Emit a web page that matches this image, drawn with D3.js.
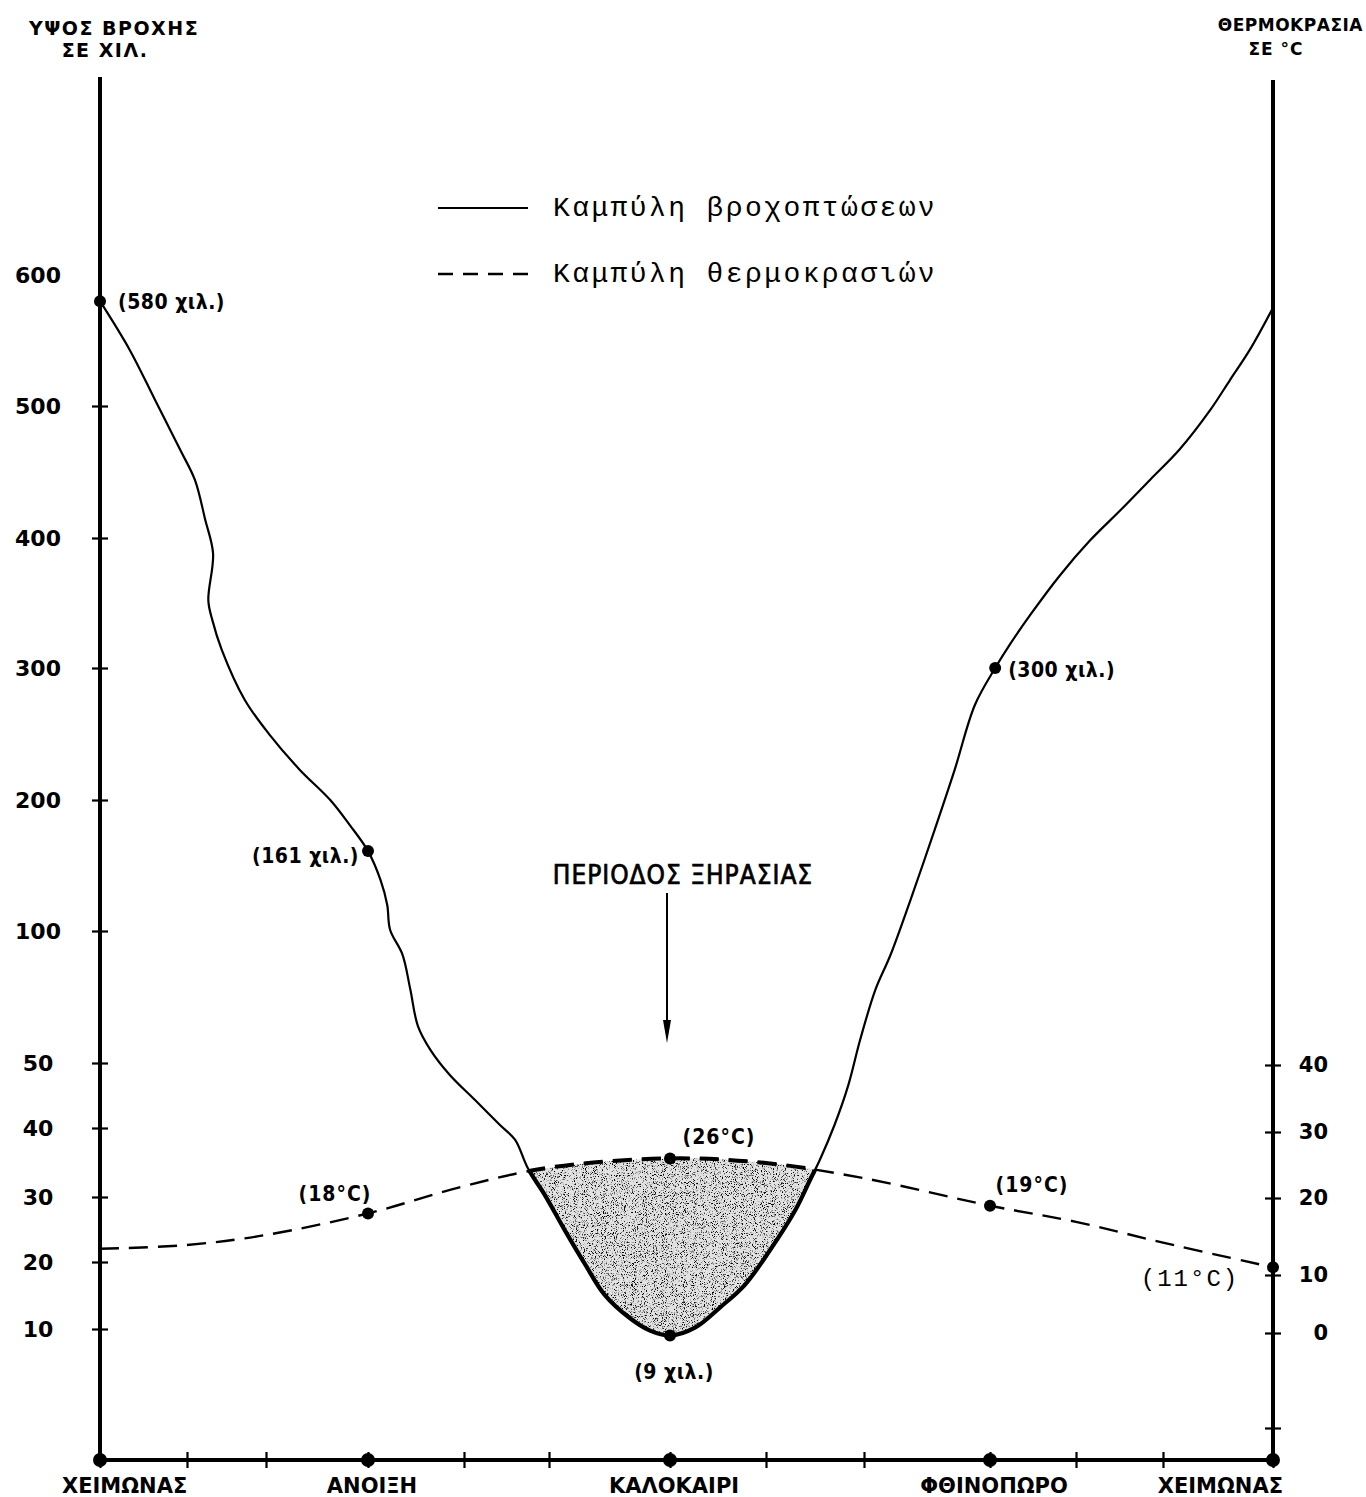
<!DOCTYPE html>
<html lang="el">
<head>
<meta charset="utf-8">
<script src="https://cdn.jsdelivr.net/npm/d3@7"></script>
<style>
body { margin:0; background:#fff; }
svg { display:block; background:#fff; }
.bold { font-family:"DejaVu Sans", sans-serif; font-weight:bold; }
.cond { font-family:"DejaVu Sans Condensed", "DejaVu Sans", sans-serif; font-weight:bold; }
.mono { font-family:"Liberation Mono", "DejaVu Sans Mono", monospace; }
path.rain { fill:none; stroke:#000; stroke-width:2.2; }
path.temp { fill:none; stroke:#000; stroke-width:2.4; stroke-dasharray:19,10; }
</style>
</head>
<body>
<svg id="chart"></svg>
<script>
var W = 1366, H = 1497;

// --- data ---
var monthTicks = d3.range(0, 13);
var seasonNames = ["ΧΕΙΜΩΝΑΣ", "ΑΝΟΙΞΗ", "ΚΑΛΟΚΑΙΡΙ", "ΦΘΙΝΟΠΩΡΟ", "ΧΕΙΜΩΝΑΣ"];
var seasonMonths = [0, 3, 6, 9, 12];
var rainTicks = [10, 20, 30, 40, 50, 100, 200, 300, 400, 500, 600];
var tempTicks = [-10, 0, 10, 20, 30, 40];

// rain curve (month, mm)
var rainMonth = [0, 0.34, 0.63, 0.92, 1.10, 1.23, 1.33, 1.27, 1.32, 1.44, 1.73, 2.04, 2.33, 2.63, 2.82, 3,
  3.13, 3.20, 3.23, 3.36, 3.44, 3.52, 3.65, 3.85, 4.13, 4.42, 4.60, 4.75, 4.95, 5.13, 5.30, 5.46, 5.67, 5.83, 6,
  6.26, 6.52, 6.78, 7.04, 7.30, 7.45, 7.55, 7.70, 7.84, 7.96, 8.09, 8.21, 8.37, 8.56, 8.72, 8.88, 9.06,
  9.23, 9.47, 9.81, 10.16, 10.51, 10.85, 11.15, 11.43, 11.61, 11.79, 12];
var rainMm = [580, 543, 505, 467, 444, 414, 388, 352, 337, 314, 276, 249, 223, 200, 181, 161,
  139, 120, 101, 91, 78, 64, 55, 48.2, 44.3, 40.5, 38.3, 34.2, 30.3, 24.9, 19.6, 15.1, 11.6, 9.8, 9,
  10.2, 13.2, 16.6, 21.8, 28, 32.5, 35.4, 40.5, 46.6, 58.7, 77.7, 90.9, 124, 177, 223, 272, 300,
  318, 341, 371, 398, 421, 444, 467, 497, 520, 543, 575];

// temperature curve, one value per month
var tempMonth = d3.range(0, 13);
var tempC = [13.4, 13.9, 15.2, 18, 21.8, 24.6, 26, 25.3, 23, 19, 16.9, 14.2, 11];

var rainNoteMonth = [0, 3, 6, 9.06];
var rainNoteText = ["(580 χιλ.)", "(161 χιλ.)", "(9 χιλ.)", "(300 χιλ.)"];
var tempNoteMonth = [3, 6, 9, 12];
var tempNoteText = ["(18°C)", "(26°C)", "(19°C)", "(11°C)"];

// --- layout ---
var x = d3.scaleLinear().domain(monthTicks)
  .range([100, 187, 266, 368, 464, 549, 670, 766, 864, 990, 1076, 1163, 1273]);
var yRain = d3.scaleLinear().domain([0].concat(rainTicks))
  .range([1395, 1329, 1262, 1197, 1128, 1063, 931, 800, 668, 538, 406, 275]);
var yTemp = d3.scaleLinear().domain(tempTicks)
  .range([1428, 1333, 1275, 1198, 1132, 1065]);
var base = 1460;

var svg = d3.select('#chart').attr('width', W).attr('height', H);
var defs = svg.append('defs');

var rainPts = rainMonth.map(function(m, i){ return [x(m), yRain(rainMm[i])]; });
var tempPts = tempMonth.map(function(m, i){ return [x(m), yTemp(tempC[i])]; });

var curve = d3.curveCatmullRom.alpha(0.5);
var line = d3.line().curve(curve);
var belowTemp = d3.area().curve(curve).x(function(d){return d[0];}).y0(function(d){return d[1];}).y1(base);
var aboveRain = d3.area().curve(curve).x(function(d){return d[0];}).y0(0).y1(function(d){return d[1];});

defs.append('clipPath').attr('id', 'clipTemp').append('path').attr('d', belowTemp(tempPts));
defs.append('clipPath').attr('id', 'clipRain').append('path').attr('d', aboveRain(rainPts));

var f = defs.append('filter').attr('id', 'speckle').attr('color-interpolation-filters', 'sRGB');
f.append('feTurbulence').attr('type', 'fractalNoise').attr('baseFrequency', 1.1)
  .attr('numOctaves', 2).attr('seed', 4).attr('result', 'noise');
f.append('feColorMatrix').attr('in', 'noise').attr('type', 'matrix')
  .attr('values', '0 0 0 0 0  0 0 0 0 0  0 0 0 0 0  6 0 0 0 -3.3').attr('result', 'dots');
f.append('feComposite').attr('in', 'dots').attr('in2', 'SourceGraphic').attr('operator', 'in');

// dry period shading: below the temperature curve and above the rain curve
var shade = svg.append('g').attr('clip-path', 'url(#clipTemp)');
shade.append('path').attr('d', aboveRain(rainPts)).attr('fill', '#e2e2e2');
shade.append('path').attr('d', aboveRain(rainPts)).attr('fill', '#000').attr('filter', 'url(#speckle)');

// curves
svg.append('path').attr('class', 'rain').attr('d', line(rainPts));
svg.append('path').attr('class', 'rain').attr('d', line(rainPts))
  .attr('clip-path', 'url(#clipTemp)').style('stroke-width', 4.2);
svg.append('path').attr('class', 'temp').attr('d', line(tempPts));
svg.append('path').attr('class', 'temp').attr('d', line(tempPts))
  .attr('clip-path', 'url(#clipRain)').style('stroke-width', 4);

// axes
svg.append('g').attr('transform', 'translate(100,0)')
  .call(d3.axisLeft(yRain).tickValues(rainTicks).tickSize(8))
  .call(function(g){
    g.select('.domain').remove();
    g.selectAll('.tick line').attr('x1', 8).attr('stroke-width', 2.2);
    g.selectAll('.tick').filter(function(d){ return d === 600; }).select('line').remove();
    g.attr('font-family', null).attr('font-size', null).attr('class', 'bold').style('font-size', '22px');
    g.selectAll('.tick text').attr('x', -62).attr('text-anchor', 'middle').attr('fill', '#000');
  });
svg.append('g').attr('transform', 'translate(1273,0)')
  .call(d3.axisRight(yTemp).tickValues(tempTicks).tickSize(8)
    .tickFormat(function(d){ return d < 0 ? '' : d; }))
  .call(function(g){
    g.select('.domain').remove();
    g.selectAll('.tick line').attr('x1', -8).attr('stroke-width', 2.2);
    g.attr('font-family', null).attr('font-size', null).attr('class', 'bold').style('font-size', '21px');
    g.selectAll('.tick text').attr('x', 55).attr('text-anchor', 'end').attr('fill', '#000');
  });
svg.append('g').attr('transform', 'translate(0,' + base + ')')
  .call(d3.axisBottom(x).tickValues(monthTicks).tickSize(8).tickFormat(''))
  .call(function(g){
    g.select('.domain').remove();
    g.selectAll('.tick line').attr('y1', -8).attr('stroke-width', 2.2);
  });

var ax = svg.append('g').attr('stroke', '#000').attr('stroke-width', 4);
ax.append('line').attr('x1', x(0)).attr('x2', x(0)).attr('y1', 77).attr('y2', base);
ax.append('line').attr('x1', x(12)).attr('x2', x(12)).attr('y1', 80).attr('y2', base);
ax.append('line').attr('x1', x(0)).attr('x2', x(12)).attr('y1', base).attr('y2', base);

svg.append('g').selectAll('circle').data(seasonMonths).enter().append('circle')
  .attr('cx', function(d){ return x(d); }).attr('cy', base).attr('r', 7);

svg.append('g').attr('class', 'bold').style('font-size', '21px')
  .selectAll('text').data(seasonNames).enter().append('text')
  .attr('x', function(d, i){
    var m = seasonMonths[i];
    return i === 0 ? x(m) - 38 : (i === seasonNames.length - 1 ? x(m) + 10 : x(m) + 4);
  })
  .attr('y', 1493)
  .attr('text-anchor', function(d, i){ return i === 0 ? 'start' : (i === seasonNames.length - 1 ? 'end' : 'middle'); })
  .text(function(d){ return d; });

// points and their notes
var rainOff = [[18, 8, 'start'], [-9, 12, 'end'], [4, 43, 'middle'], [13, 9, 'start']];
var tempOff = [[-33, -12, 'middle'], [49, -14, 'middle'], [42, -14, 'middle'], [-83, 19, 'middle']];
rainNoteMonth.forEach(function(m, i){
  var v = rainMm[rainMonth.indexOf(m)], cx = x(m), cy = yRain(v);
  svg.append('circle').attr('cx', cx).attr('cy', cy).attr('r', 6);
  svg.append('text').attr('class', 'cond').style('font-size', '21px').style('letter-spacing', '0.5px')
    .attr('x', cx + rainOff[i][0]).attr('y', cy + rainOff[i][1]).attr('text-anchor', rainOff[i][2])
    .text(rainNoteText[i]);
});
tempNoteMonth.forEach(function(m, i){
  var v = tempC[tempMonth.indexOf(m)], cx = x(m), cy = yTemp(v);
  svg.append('circle').attr('cx', cx).attr('cy', cy).attr('r', 6);
  var last = i === tempNoteMonth.length - 1;
  svg.append('text').attr('class', last ? 'mono' : 'cond')
    .style('font-size', last ? '24px' : '21px').style('letter-spacing', last ? '2px' : '1px')
    .attr('x', cx + tempOff[i][0]).attr('y', cy + tempOff[i][1]).attr('text-anchor', tempOff[i][2])
    .text(tempNoteText[i]);
});

// dry period note with arrow
svg.append('text').attr('class', 'cond').style('font-weight', 'normal').style('font-size', '26px')
  .style('letter-spacing', '1px').attr('stroke', '#000').attr('stroke-width', 0.7)
  .attr('x', 683).attr('y', 884).attr('text-anchor', 'middle')
  .text('ΠΕΡΙΟΔΟΣ ΞΗΡΑΣΙΑΣ');
svg.append('line').attr('x1', x(6) - 3).attr('x2', x(6) - 3).attr('y1', 893).attr('y2', 1025)
  .attr('stroke', '#000').attr('stroke-width', 2);
svg.append('path').attr('d', d3.line()([[x(6) - 7, 1020], [x(6) + 1, 1020], [x(6) - 3, 1043]])).attr('fill', '#000');

// titles
svg.append('text').attr('class', 'bold').style('font-size', '19px').style('letter-spacing', '1.5px')
  .attr('x', 114).attr('y', 35).attr('text-anchor', 'middle').text('ΥΨΟΣ ΒΡΟΧΗΣ');
svg.append('text').attr('class', 'bold').style('font-size', '19px').style('letter-spacing', '1.5px')
  .attr('x', 105).attr('y', 57).attr('text-anchor', 'middle').text('ΣΕ ΧΙΛ.');
svg.append('text').attr('class', 'bold').style('font-size', '17px').style('letter-spacing', '0.5px')
  .attr('x', 1363).attr('y', 31).attr('text-anchor', 'end').text('ΘΕΡΜΟΚΡΑΣΙΑ');
svg.append('text').attr('class', 'bold').style('font-size', '17px').style('letter-spacing', '1px')
  .attr('x', 1276).attr('y', 55).attr('text-anchor', 'middle').text('ΣΕ °C');

// legend
var legend = [["rain", "Καμπύλη βροχοπτώσεων", 208], ["temp", "Καμπύλη θερμοκρασιών", 274]];
legend.forEach(function(d){
  svg.append('path').attr('class', d[0]).attr('d', d3.line()([[438, d[2]], [528, d[2]]]))
    .style('stroke-dasharray', d[0] === 'temp' ? '15,10' : null);
  svg.append('text').attr('class', 'mono').style('font-size', '28px').style('letter-spacing', '2.4px')
    .attr('x', 553).attr('y', d[2] + 8).text(d[1]);
});
</script>
</body>
</html>
